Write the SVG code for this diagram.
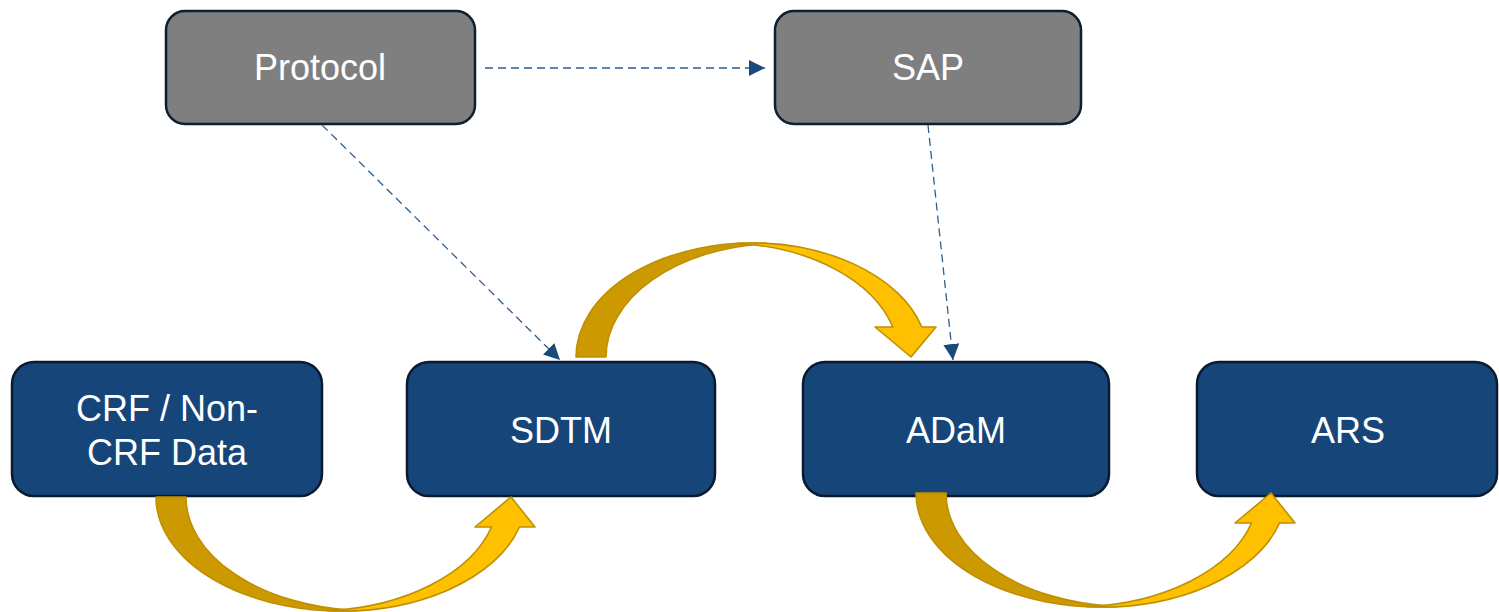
<svg xmlns="http://www.w3.org/2000/svg" width="1499" height="612" viewBox="0 0 1499 612">
  <style>
    .gray rect { fill: #7F7F7F; stroke: #0E1E33; stroke-width: 2.5; }
    .navy rect { fill: #16457A; stroke: #0A1B30; stroke-width: 2.5; }
    text { font-family: "Liberation Sans", Arial, sans-serif; font-size: 36px; fill: #FFFFFF; text-anchor: middle; }
    .dash { fill: none; stroke: #2F5F90; stroke-width: 1.3; stroke-dasharray: 8 5; marker-end: url(#tri); }
    .back { fill: #CC9A00; stroke: #BF8F00; stroke-width: 1.6; stroke-linejoin: round; }
    .front { fill: #FFC000; stroke: #BF8F00; stroke-width: 1.6; stroke-linejoin: round; }
  </style>
  <defs>
    <marker id="tri" markerUnits="userSpaceOnUse" markerWidth="16" markerHeight="16" viewBox="0 0 16 16" refX="16" refY="8" orient="auto">
      <path d="M0,0 L16,8 L0,16 Z" fill="#1A4A7C"/>
    </marker>
  </defs>
  <rect width="1499" height="612" fill="#FFFFFF"/>

  <g id="protocol" class="gray">
    <rect x="166" y="11" width="309" height="113" rx="19"/>
    <text x="320" y="80">Protocol</text>
  </g>
  <g id="sap" class="gray">
    <rect x="775" y="11" width="306" height="113" rx="19"/>
    <text x="928" y="80">SAP</text>
  </g>
  <g id="crf" class="navy">
    <rect x="12" y="362" width="310" height="134" rx="22"/>
    <text x="167" y="421">CRF / Non-</text>
    <text x="167" y="465">CRF Data</text>
  </g>
  <g id="sdtm" class="navy">
    <rect x="407" y="362" width="308" height="134" rx="22"/>
    <text x="561" y="443">SDTM</text>
  </g>
  <g id="adam" class="navy">
    <rect x="803" y="362" width="306" height="134" rx="22"/>
    <text x="956" y="443">ADaM</text>
  </g>
  <g id="ars" class="navy">
    <rect x="1197" y="362" width="300" height="134" rx="22"/>
    <text x="1348" y="443">ARS</text>
  </g>

  <g id="connectors">
    <line class="dash" x1="485" y1="68" x2="765" y2="68"/>
    <line class="dash" x1="322" y1="125" x2="560" y2="360"/>
    <line class="dash" x1="928" y1="125" x2="953" y2="360"/>

    <g id="arrow-crf-sdtm">
      <path class="back" d="M156,497 A185,114 0 0 0 356,610.6 A185,114 0 0 1 186,497 Z"/>
      <path class="front" d="M327,610.7 A185,114 0 0 0 519.5,527 L535,527 L511,497 L475,527 L491.5,527 A185,114 0 0 1 327,610.7 Z"/>
    </g>
    <g id="arrow-sdtm-adam">
      <path class="back" d="M576,357 A176,114 0 0 1 767,243.4 A176,114 0 0 0 606,357 Z"/>
      <path class="front" d="M737.5,243.4 A176,114 0 0 1 921.8,327 L936,327 L911,357 L875,327 L892.8,327 A176,114 0 0 0 737.5,243.4 Z"/>
    </g>
    <g id="arrow-adam-ars">
      <path class="back" d="M916,493 A185,114 0 0 0 1116,606.6 A185,114 0 0 1 946,493 Z"/>
      <path class="front" d="M1087,606.7 A185,114 0 0 0 1279.5,523 L1295,523 L1271,493 L1235,523 L1251.5,523 A185,114 0 0 1 1087,606.7 Z"/>
    </g>
  </g>
</svg>
